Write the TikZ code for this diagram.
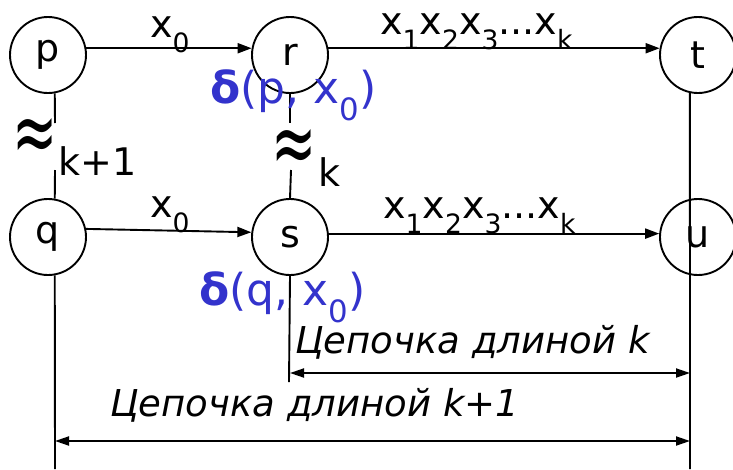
\documentclass[tikz,border=0pt]{standalone}
\usepackage{fontspec}
\setmainfont{DejaVu Sans}
\usepackage{graphicx}
\usetikzlibrary{positioning,arrows.meta}
\definecolor{deltablue}{RGB}{51,51,204}
\newcommand{\lowsub}[1]{\raisebox{-0.4em}{\scalebox{0.7}{#1}}}

\begin{document}
\begin{tikzpicture}[
    x=1pt, y=-1pt,
    font=\fontsize{38}{40}\selectfont,
    node distance=182pt and 242pt, on grid,
    state/.style={circle, draw, line width=1.9pt, minimum size=76pt, inner sep=0pt},
    trans/.style={-{Triangle[length=14pt,width=10pt]}, line width=1.9pt},
    span/.style={{Triangle[length=14pt,width=9pt]}-{Triangle[length=14pt,width=9pt]}, line width=1.9pt},
    link/.style={line width=1.9pt},
    lbl/.style={anchor=base west, inner sep=0pt},
    eqv/.style={inner sep=0pt, font=\fontsize{54}{54}\selectfont},
    delta_lbl/.style={lbl, text=deltablue, font=\fontsize{44}{46}\selectfont},
    chain_lbl/.style={lbl, font=\fontsize{37}{40}\selectfont\itshape}
]
\useasboundingbox (0,0) rectangle (733,469);

\node (p) [state] at (48,55) {p};
\node (r) [state, right=of p] {r};
\node (t) [state, right=408pt of r] {t};
\node (q) [state, below=of p] {q};
\node (s) [state, below=of r] {s};
\node (u) [state, below=of t] {u};

\coordinate (pq1) at (55,123);
\coordinate (pq2) at (55,170);
\coordinate (rs1) at (290,123);
\coordinate (rs2) at (291,170);
\coordinate (qend) at (55,469);
\coordinate (send) at (289,382);
\coordinate (tend) at (690,469);
\coordinate (kL) at (290,373);
\coordinate (kR) at (690,373);
\coordinate (k1L) at (55,441);
\coordinate (k1R) at (690,441);

\draw [trans] (p.10) -- (r.170);
\draw [trans] (r.10) -- (t.170);
\draw [trans] (q.12) -- (s.173);
\draw [trans] (s.5) -- (u.175);

\draw [link] (p.-80) -- (pq1);
\draw [link] (pq2) -- (q.80);
\draw [link] (r.south) -- (rs1);
\draw [link] (rs2) -- (s.north);
\draw [link] (q.-80) -- (qend);
\draw [link] (s.south) -- (send);
\draw [link] (t.-102) -- (tend);

\draw [span] (kL) -- (kR);
\draw [span] (k1L) -- (k1R);

\node (x_pr) [lbl] at (150,37) {x\lowsub{0}};
\node (w_rt) [lbl] at (380,34) {x\lowsub{1}x\lowsub{2}x\lowsub{3}...x\lowsub{k}};
\node (x_qs) [lbl] at (150,217) {x\lowsub{0}};
\node (w_su) [lbl] at (383,218) {x\lowsub{1}x\lowsub{2}x\lowsub{3}...x\lowsub{k}};

\node (d_px) [delta_lbl] at (210,103) {\textbf{δ}(p, x\lowsub{0})};
\node (d_qx) [delta_lbl] at (199,305) {\textbf{δ}(q, x\lowsub{0})};

\node (eq_pq) [eqv] at (35,140) {\scalebox{1}[1.65]{≈}};
\node (i_pq) [lbl] at (58,175) {k+1};
\node (eq_rs) [eqv] at (294,151) {\scalebox{1}[1.65]{≈}};
\node (i_rs) [lbl] at (318,186) {k};

\node (c_k) [chain_lbl] at (295,353) {Цепочка длиной k};
\node (c_k1) [chain_lbl] at (110,416) {Цепочка длиной k+1};

\end{tikzpicture}
\end{document}
